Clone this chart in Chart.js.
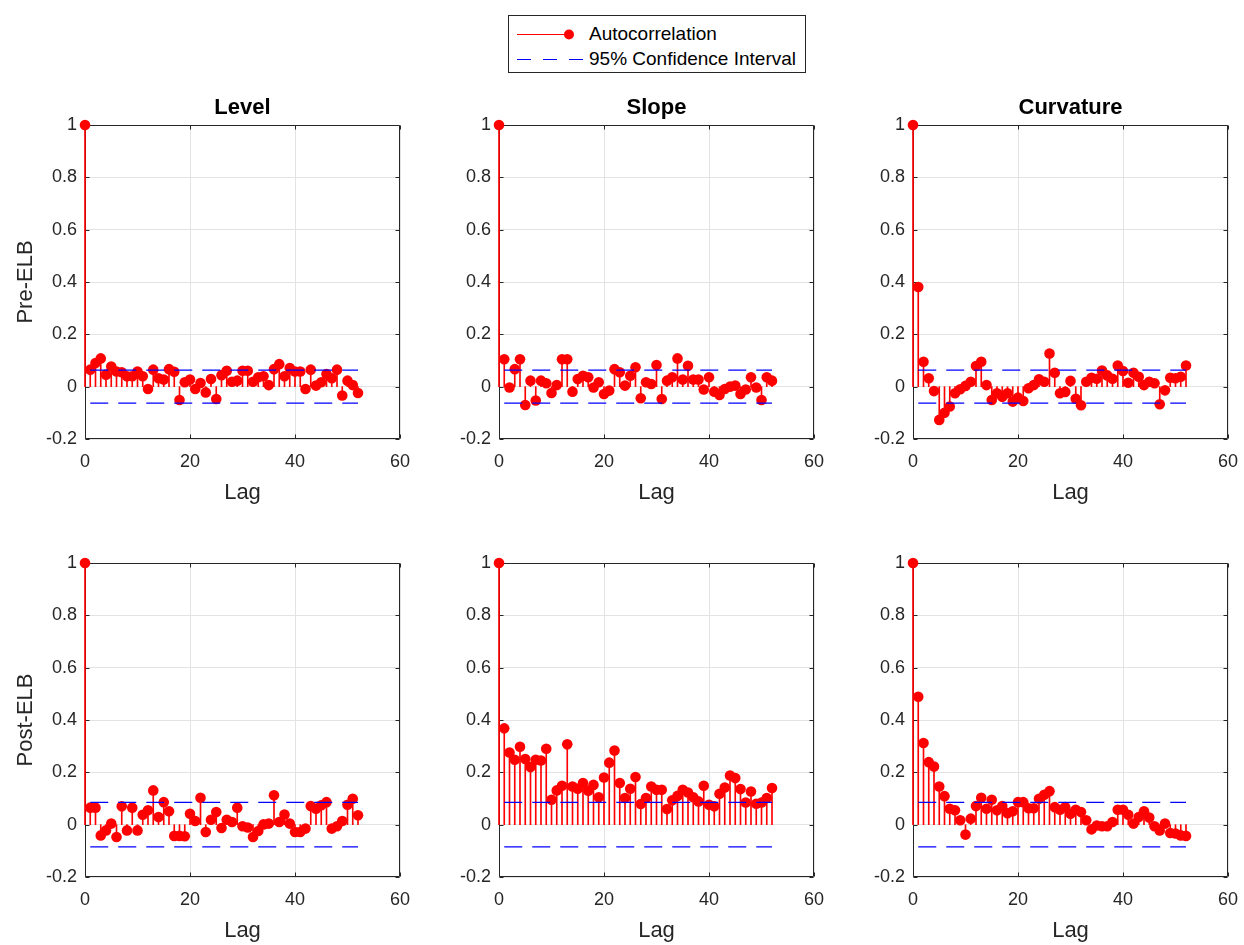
<!DOCTYPE html>
<html lang="en">
<head>
<meta charset="utf-8">
<title>Autocorrelation: Pre-ELB vs Post-ELB</title>
<script src="https://cdn.jsdelivr.net/npm/chart.js@4.4.1/dist/chart.umd.min.js"></script>
<style>
  body { margin: 0; width: 1244px; height: 945px; overflow: hidden; background: #fff; position: relative;
         font-family: "Liberation Sans", Arial, sans-serif; }
  canvas { position: absolute; }
  #legend { position: absolute; left: 508px; top: 15px; width: 296px; height: 56px;
            border: 1px solid #262626; background: #fff; font-size: 19px; color: #000; }
  #legend svg { position: absolute; left: 0; top: 0; }
  #legend span { position: absolute; left: 80px; line-height: 24px; white-space: nowrap; }
</style>
</head>
<body>
<div id="legend">
  <svg width="80" height="56">
    <line x1="8" y1="18.5" x2="60" y2="18.5" stroke="#ff0000" stroke-width="1"/>
    <circle cx="60" cy="18.5" r="5" fill="#ff0000"/>
    <line x1="8" y1="43.5" x2="74" y2="43.5" stroke="#0000ff" stroke-width="1" stroke-dasharray="14 12"/>
  </svg>
  <span style="top:6px">Autocorrelation</span>
  <span style="top:31px">95% Confidence Interval</span>
</div>

<canvas id="c0" width="414" height="427" style="left:0px;top:80px"></canvas>
<canvas id="c1" width="414" height="427" style="left:414px;top:80px"></canvas>
<canvas id="c2" width="414" height="427" style="left:828px;top:80px"></canvas>
<canvas id="c3" width="414" height="427" style="left:0px;top:518px"></canvas>
<canvas id="c4" width="414" height="427" style="left:414px;top:518px"></canvas>
<canvas id="c5" width="414" height="427" style="left:828px;top:518px"></canvas>

<script>
// lags 0..52
const lags = [0, 1, 2, 3, 4, 5, 6, 7, 8, 9, 10, 11, 12, 13, 14, 15, 16, 17, 18, 19, 20,
  21, 22, 23, 24, 25, 26, 27, 28, 29, 30, 31, 32, 33, 34, 35, 36, 37, 38, 39, 40,
  41, 42, 43, 44, 45, 46, 47, 48, 49, 50, 51, 52];
const ciLags = [1, 52];

const factors = ['Level', 'Slope', 'Curvature'];
const periods = ['Pre-ELB', 'Post-ELB'];
const ciBounds = [0.063, 0.085];   // pre, post

const preLevel = [1, 0.065, 0.09, 0.108, 0.046, 0.077, 0.058, 0.055, 0.04, 0.04, 0.058,
  0.04, -0.009, 0.065, 0.032, 0.027, 0.067, 0.057, -0.051, 0.017, 0.027,
  -0.009, 0.014, -0.022, 0.029, -0.047, 0.044, 0.061, 0.019, 0.023, 0.061,
  0.061, 0.019, 0.036, 0.04, 0.006, 0.067, 0.086, 0.04, 0.071, 0.058,
  0.058, -0.009, 0.065, 0.004, 0.017, 0.048, 0.032, 0.065, -0.034, 0.023,
  0.006, -0.024];
const preSlope = [1, 0.105, -0.003, 0.067, 0.105, -0.07, 0.023, -0.053, 0.023, 0.013, -0.024,
  0.006, 0.105, 0.105, -0.019, 0.029, 0.042, 0.036, -0.003, 0.017, -0.028,
  -0.015, 0.067, 0.055, 0.004, 0.042, 0.074, -0.044, 0.017, 0.01, 0.083,
  -0.047, 0.023, 0.036, 0.108, 0.027, 0.08, 0.027, 0.027, -0.011, 0.036,
  -0.019, -0.032, -0.009, 0, 0.004, -0.028, -0.011, 0.036, -0.003, -0.051,
  0.036, 0.023];
const preCurv = [1, 0.381, 0.095, 0.032, -0.017, -0.127, -0.1, -0.076, -0.025, -0.01, 0.003,
  0.019, 0.079, 0.095, 0.006, -0.051, -0.025, -0.039, -0.025, -0.057, -0.042,
  -0.055, -0.006, 0.006, 0.028, 0.019, 0.127, 0.053, -0.025, -0.02, 0.022,
  -0.046, -0.071, 0.019, 0.034, 0.03, 0.062, 0.043, 0.03, 0.081, 0.06,
  0.015, 0.053, 0.038, 0.006, 0.019, 0.013, -0.067, -0.014, 0.034, 0.032,
  0.038, 0.081];
const postLevel = [1, 0.065, 0.065, -0.041, -0.022, 0.004, -0.047, 0.07, -0.022, 0.065, -0.022,
  0.038, 0.055, 0.131, 0.029, 0.086, 0.051, -0.043, -0.043, -0.044, 0.042,
  0.014, 0.103, -0.028, 0.019, 0.048, -0.013, 0.019, 0.01, 0.065, -0.006,
  -0.011, -0.047, -0.024, 0.001, 0.004, 0.112, 0.01, 0.039, 0.004, -0.028,
  -0.028, -0.015, 0.071, 0.061, 0.074, 0.086, -0.015, -0.006, 0.014, 0.076,
  0.099, 0.036];
const postSlope = [1, 0.368, 0.276, 0.248, 0.298, 0.251, 0.22, 0.248, 0.245, 0.29, 0.095,
  0.131, 0.149, 0.307, 0.146, 0.137, 0.159, 0.13, 0.152, 0.105, 0.18,
  0.237, 0.283, 0.159, 0.102, 0.137, 0.182, 0.079, 0.102, 0.146, 0.133,
  0.133, 0.06, 0.093, 0.11, 0.133, 0.123, 0.105, 0.089, 0.149, 0.076,
  0.07, 0.118, 0.142, 0.188, 0.178, 0.136, 0.085, 0.127, 0.08, 0.085,
  0.102, 0.14];
const postCurv = [1, 0.489, 0.312, 0.239, 0.222, 0.146, 0.109, 0.061, 0.055, 0.017, -0.038,
  0.023, 0.071, 0.103, 0.061, 0.095, 0.055, 0.071, 0.044, 0.051, 0.086,
  0.086, 0.063, 0.063, 0.099, 0.114, 0.128, 0.067, 0.057, 0.067, 0.042,
  0.057, 0.048, 0.017, -0.018, -0.003, -0.006, -0.006, 0.01, 0.057, 0.057,
  0.038, 0.004, 0.029, 0.051, 0.027, -0.006, -0.022, 0.004, -0.032, -0.034,
  -0.041, -0.043];

const panels = [
  [preLevel, preSlope, preCurv],
  [postLevel, postSlope, postCurv]
];

const AXIS = '#262626';
const GRID = '#e3e3e3';

Chart.defaults.font.family = '"Liberation Sans", Arial, sans-serif';
Chart.defaults.color = AXIS;

// box around the plot with inward tick marks, like the original figure
const boxTicks = {
  id: 'boxTicks',
  beforeDatasetsDraw(chart) {
    const { ctx, chartArea: a, scales: { x, y } } = chart;
    const L = Math.round(a.left) + 0.5, R = Math.round(a.right) - 0.5;
    const T = Math.round(a.top) + 0.5, B = Math.round(a.bottom) - 0.5;
    ctx.save();
    ctx.strokeStyle = AXIS;
    ctx.lineWidth = 1;
    ctx.beginPath();
    x.ticks.forEach(t => {
      const px = Math.round(x.getPixelForValue(t.value)) + 0.5;
      ctx.moveTo(px, B); ctx.lineTo(px, B - 4);
      ctx.moveTo(px, T); ctx.lineTo(px, T + 4);
    });
    y.ticks.forEach(t => {
      const py = Math.round(y.getPixelForValue(t.value)) + 0.5;
      ctx.moveTo(L, py); ctx.lineTo(L + 4, py);
      ctx.moveTo(R, py); ctx.lineTo(R - 4, py);
    });
    ctx.rect(L, T, R - L, B - T);
    ctx.stroke();
    ctx.restore();
  }
};

function pts(xs, ys) {
  return xs.map((v, i) => ({ x: v, y: ys[i] }));
}

function makePanel(canvasId, values, ci, title, yTitle) {
  const config = {
    type: 'scatter',
    data: {
      datasets: [{
        type: 'line',
        data: pts(ciLags, [ci, ci]),
        borderColor: '#0000ff',
        borderWidth: 1.2,
        borderDash: [18, 10],
        pointRadius: 0,
        showLine: true,
        clip: false,
        order: 1
      }, {
        type: 'line',
        data: pts(ciLags, [-ci, -ci]),
        borderColor: '#0000ff',
        borderWidth: 1.2,
        borderDash: [18, 10],
        pointRadius: 0,
        showLine: true,
        clip: false,
        order: 1
      }, {
        type: 'scatter',
        data: pts(lags, values),
        pointRadius: 5.3,
        pointBorderWidth: 0,
        pointBackgroundColor: '#ff0000',
        clip: false,
        order: 2
      }, {
        type: 'bar',
        data: pts(lags, values),
        backgroundColor: '#ff0000',
        borderWidth: 0,
        barThickness: 1,
        clip: false,
        order: 3
      }]
    },
    options: {
      responsive: false,
      animation: false,
      events: [],
      layout: { padding: { left: 0, right: 14, top: 0, bottom: 0 } },
      plugins: {
        legend: { display: false },
        tooltip: { enabled: false },
        title: {
          display: true,
          text: title,
          fullSize: false,
          color: '#000',
          font: { size: 22, weight: 'bold', lineHeight: 1.2 },
          padding: { top: 14.8, bottom: 3.8 }
        }
      },
      scales: {
        x: {
          type: 'linear',
          min: 0,
          max: 60,
          offset: false,
          afterFit(s) { s.height = 68; s.paddingLeft = 0; s.paddingRight = 0; },
          ticks: { stepSize: 20, padding: 12, font: { size: 18 }, color: AXIS, maxRotation: 0, autoSkip: false },
          grid: { color: GRID, drawTicks: false, offset: false },
          border: { display: false },
          title: { display: true, text: 'Lag', color: AXIS, font: { size: 22, lineHeight: 1.2 }, padding: { top: 0, bottom: 1 } }
        },
        y: {
          type: 'linear',
          min: -0.2,
          max: 1,
          afterFit(s) { s.width = 85; s.paddingTop = 0; s.paddingBottom = 0; },
          ticks: {
            stepSize: 0.2, padding: 8, font: { size: 18 }, color: AXIS,
            callback: v => String(Math.round(v * 10) / 10)
          },
          grid: {
            color: c => (c.tick && c.tick.value === 0 ? '#000' : GRID),
            drawTicks: false
          },
          border: { display: false },
          title: { display: !!yTitle, text: yTitle || '', color: AXIS, font: { size: 22, lineHeight: 1.2 }, padding: { top: 12.5, bottom: 0 } }
        }
      }
    },
    plugins: [boxTicks]
  };
  return new Chart(document.getElementById(canvasId).getContext('2d'), config);
}

periods.forEach((period, r) => {
  factors.forEach((factor, c) => {
    makePanel('c' + (r * 3 + c), panels[r][c], ciBounds[r], r === 0 ? factor : '', c === 0 ? period : '');
  });
});
</script>
</body>
</html>
